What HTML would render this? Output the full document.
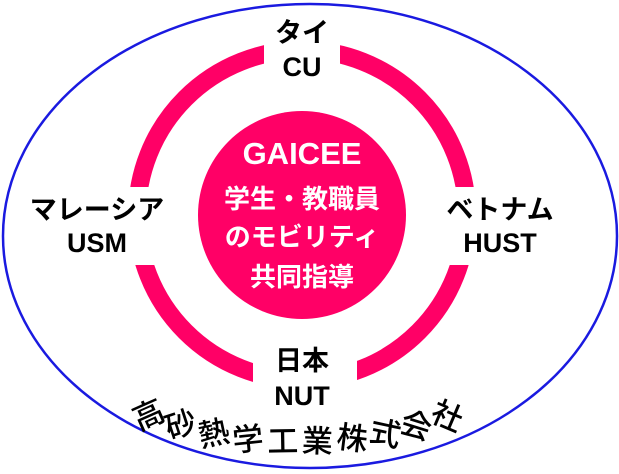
<!DOCTYPE html>
<html><head><meta charset="utf-8"><style>
html,body{margin:0;padding:0;background:#fff}
svg{display:block}
text{font-family:"Liberation Sans","Noto Sans CJK JP",sans-serif;}
</style></head><body>
<svg width="619" height="474" viewBox="0 0 619 474">
<ellipse cx="310" cy="236" rx="307" ry="232" fill="none" stroke="#1a1ae0" stroke-width="2.5"/>
<circle cx="302" cy="215" r="165" fill="none" stroke="#ff0066" stroke-width="18"/>
<circle cx="302" cy="215" r="104" fill="#ff0066"/>
<rect x="264" y="20" width="76" height="60" fill="#fff"/>
<rect x="253" y="350" width="104" height="60" fill="#fff"/>
<rect x="110" y="187" width="60" height="78" fill="#fff"/>
<rect x="440" y="187" width="60" height="78" fill="#fff"/>
<g font-size="27" font-weight="bold" text-anchor="middle" fill="#000">
<text x="302" y="42">タイ</text><text x="302" y="76">CU</text>
<text x="97" y="219">マレーシア</text><text x="97" y="252">USM</text>
<text x="500" y="219">ベトナム</text><text x="500" y="252">HUST</text>
<text x="302" y="370">日本</text><text x="302" y="405">NUT</text>
</g>
<g fill="#fff" font-weight="bold" text-anchor="middle">
<text x="302" y="164" font-size="31">GAICEE</text>
<text x="302" y="208" font-size="26">学生・教職員</text>
<text x="302" y="246" font-size="26">のモビリティ</text>
<text x="302" y="286" font-size="26">共同指導</text>
</g>
<g font-size="31" font-weight="500" text-anchor="middle" fill="#000">
<text transform="translate(153,425) rotate(-24)">高</text>
<text transform="translate(184,435) rotate(-18)">砂</text>
<text transform="translate(216,444) rotate(-12)">熱</text>
<text transform="translate(249,450) rotate(-6)">学</text>
<text transform="translate(283,452) rotate(-1)">工</text>
<text transform="translate(317,452) rotate(2)">業</text>
<text transform="translate(351,449) rotate(7)">株</text>
<text transform="translate(383,444) rotate(12)">式</text>
<text transform="translate(413,436) rotate(17)">会</text>
<text transform="translate(443,426) rotate(23)">社</text>
</g>
</svg>
</body></html>
